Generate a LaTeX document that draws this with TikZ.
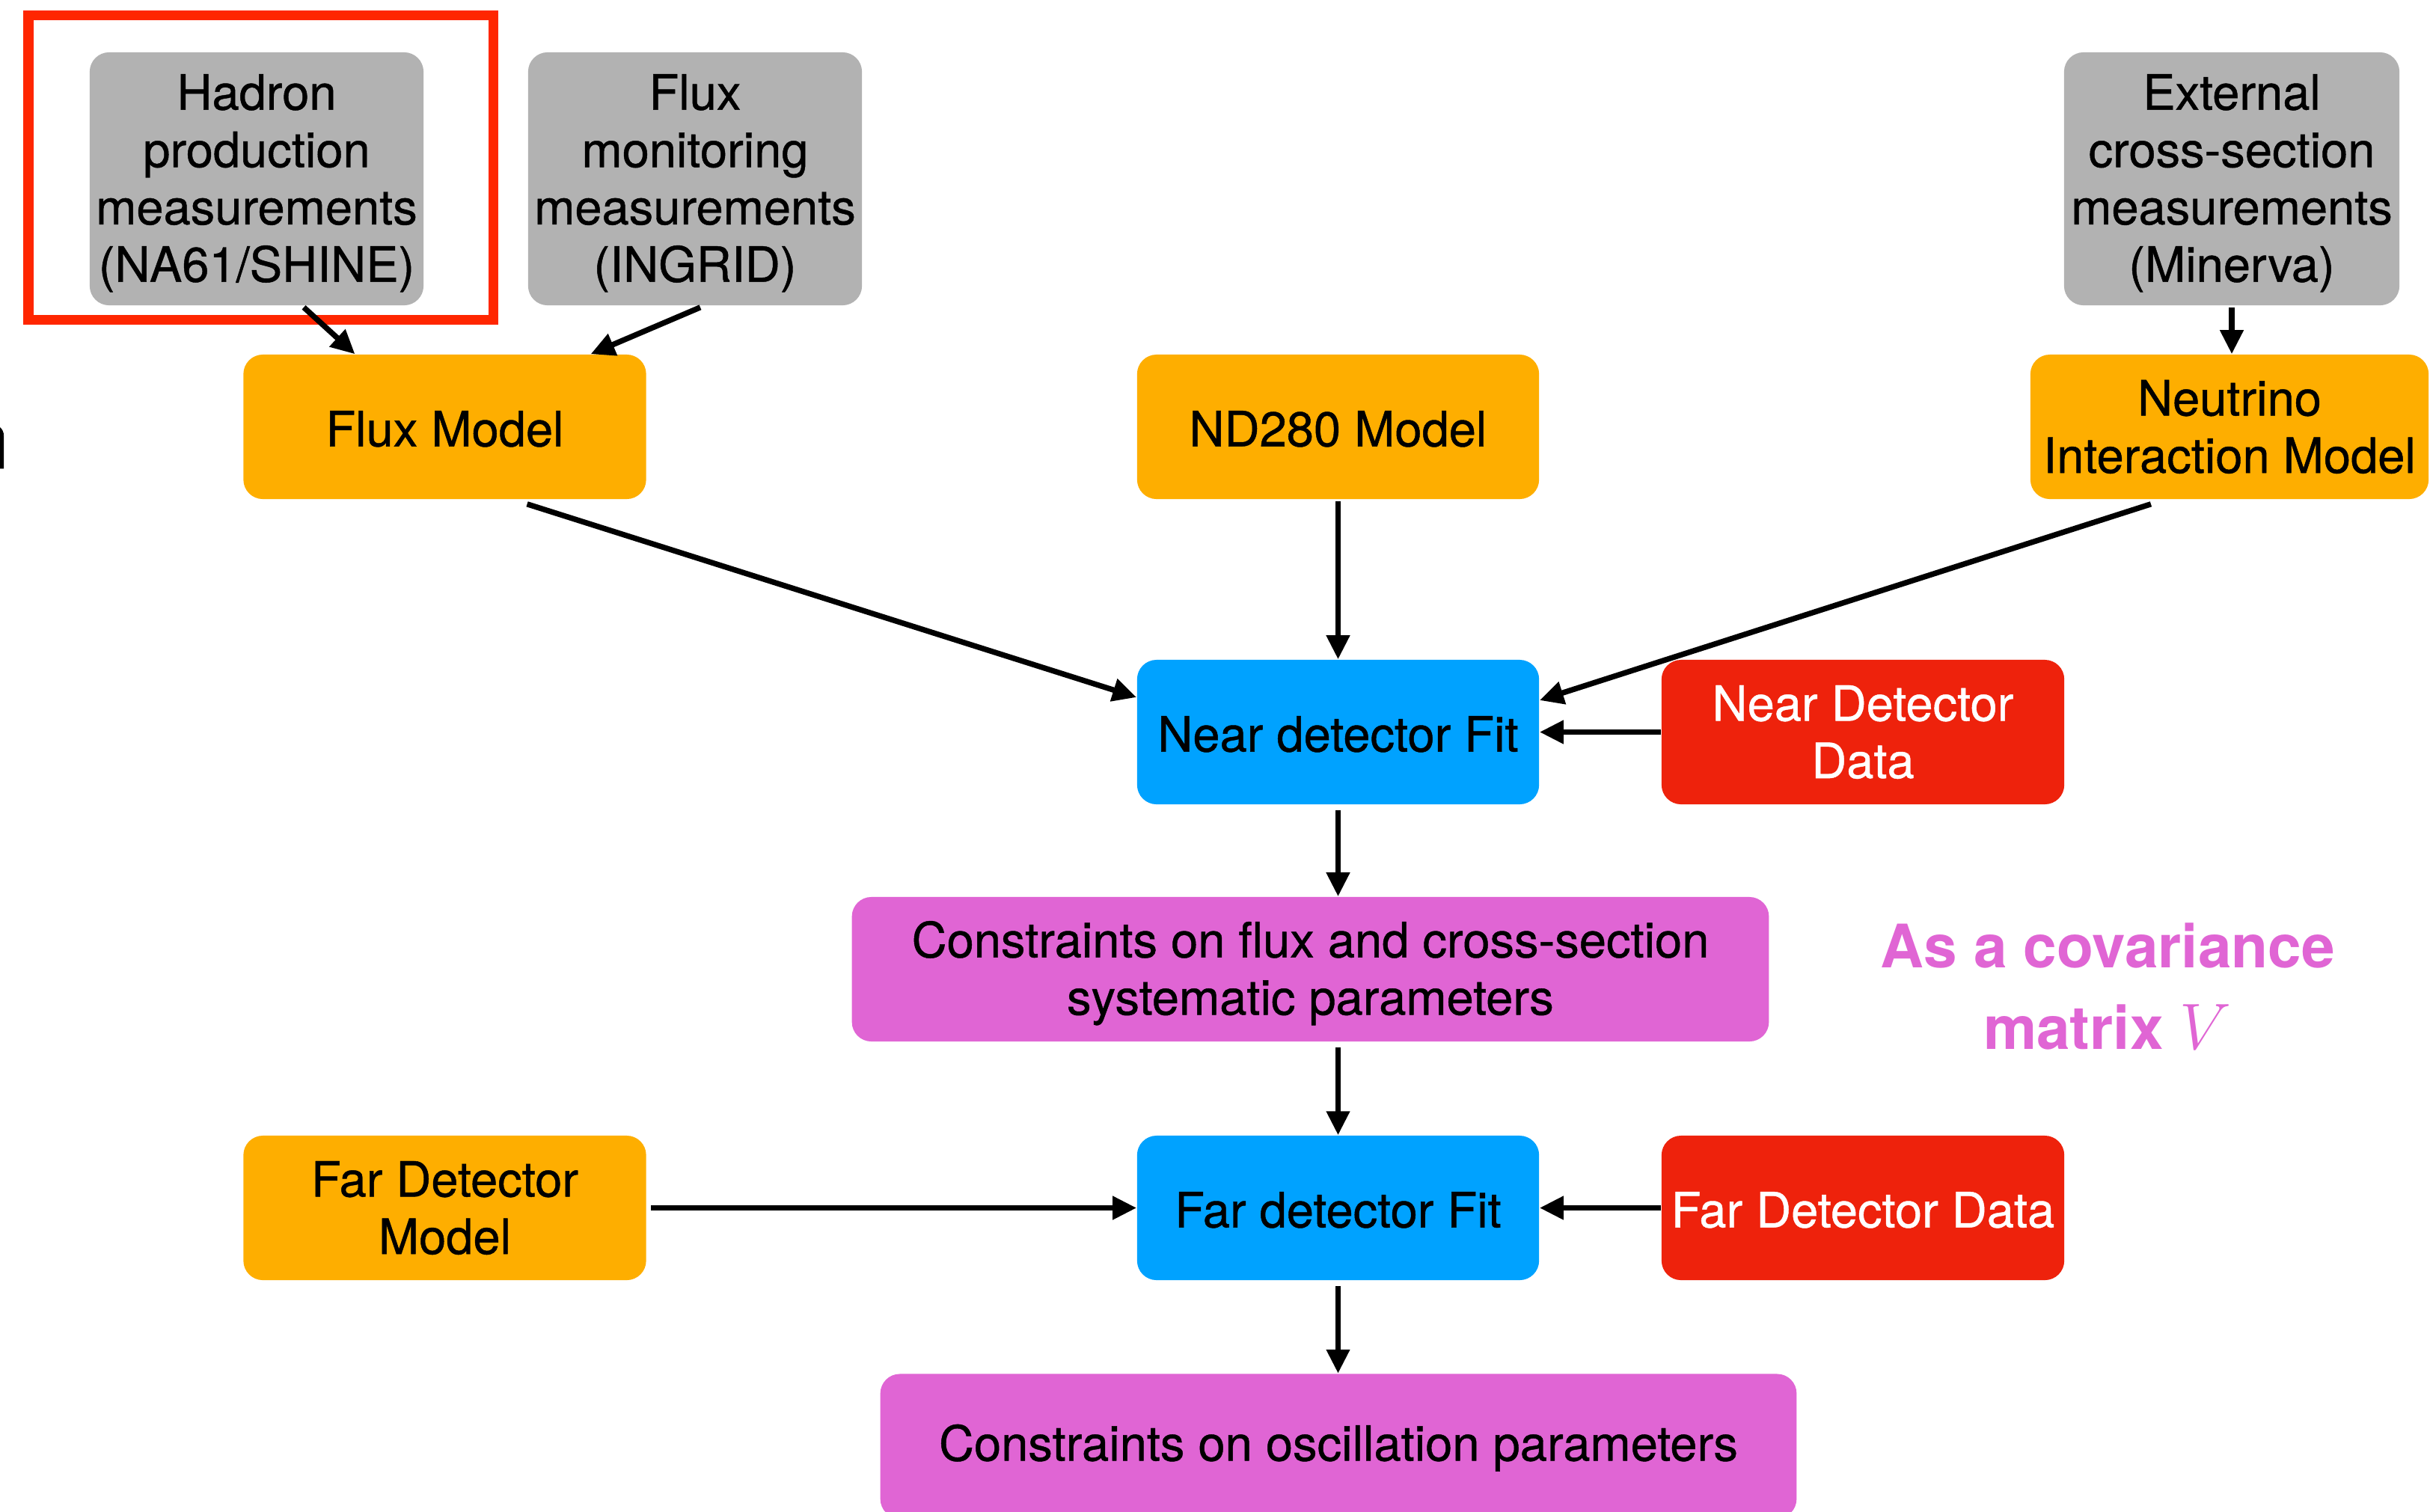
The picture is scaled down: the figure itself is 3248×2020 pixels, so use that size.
\documentclass[tikz,border=0pt]{standalone}
\usepackage{fontspec}
\setmainfont{TeX Gyre Heros}
\newfontface\medfont{TeX Gyre Heros}[FakeBold=0.7]
\usetikzlibrary{arrows.meta}
\definecolor{cgray}{HTML}{B2B2B2}
\definecolor{corange}{HTML}{FEAE00}
\definecolor{cblue}{HTML}{00A2FF}
\definecolor{cred}{HTML}{EE220C}
\definecolor{cmag}{HTML}{E065D4}
\definecolor{cframe}{HTML}{FF2600}
\newcommand{\topstrut}{\rule{0pt}{0.59cm}}
\tikzset{
  box/.style={rounded corners=0.26cm, inner sep=0pt, align=center, text=black,
    font=\medfont\fontsize{18.5}{21.8}\selectfont, minimum height=1.93cm,
    execute at begin node={\rule{0pt}{0.53cm}}},
  graybox/.style={box, fill=cgray, minimum width=4.46cm, minimum height=3.38cm},
  orangebox/.style={box, fill=corange, minimum width=5.38cm},
  bluebox/.style={box, fill=cblue, minimum width=5.37cm},
  redbox/.style={box, fill=cred, text=white, minimum width=5.38cm},
  magbox/.style={box, fill=cmag, minimum width=12.25cm},
  conn/.style={line width=2.1pt, -{Triangle[length=0.32cm, width=0.3cm]}},
}
\begin{document}
\begin{tikzpicture}[x=0.01cm, y=-0.01cm]
\useasboundingbox (0,0) rectangle (3248,2020);
\clip (0,0) rectangle (3248,2020);
\fill[white] (0,0) rectangle (3248,2020);

% partial glyph at the left edge
\node[anchor=base east, inner sep=0pt, font=\medfont\fontsize{31}{31}\selectfont] (frag) at (13,626) {n};

% top row
\node[graybox] (had)  at (343,239) {\topstrut Hadron\\production\\measurements\\(NA61/SHINE)};
\node[graybox] (fmon) at (929,239) {\topstrut Flux\\monitoring\\measurements\\(INGRID)};
\node[graybox, minimum width=4.48cm] (ext) at (2983,239) {\topstrut External\\cross-section\\measurements\\(Minerva)};
\draw[cframe, line width=3.7pt] (38,20) rectangle (659,427);

% models
\node[orangebox] (flux)  at (594.5,570.5) {Flux Model};
\node[orangebox, minimum width=5.37cm] (nd280) at (1788.5,570.5) {ND280 Model};
\node[orangebox, minimum width=5.32cm] (nim)   at (2980,570.5) {Neutrino\\Interaction Model};

% near detector
\node[bluebox] (nfit)  at (1788.5,978.5) {Near detector Fit};
\node[redbox]  (ndata) at (2490,978.5) {Near Detector\\Data};

% constraints 1
\node[magbox] (cons) at (1751.5,1295.5) {\topstrut Constraints on flux and cross-section\\systematic parameters};
\node[align=center, inner sep=0pt, text=cmag, font=\fontsize{22.8}{31}\selectfont\bfseries] (cov) at (2817,1318) {As a covariance\\matrix {\fontsize{26}{31}\selectfont$V$}};

% far detector
\node[orangebox] (ffm)   at (594.5,1614.5) {Far Detector\\Model};
\node[bluebox]   (ffit)  at (1788.5,1614.5) {Far detector Fit};
\node[redbox]    (fdata) at (2490,1614.5) {Far Detector Data};

% final
\node[magbox, minimum width=12.24cm] (osc) at (1789,1933) {Constraints on oscillation parameters};

% connectors
\draw[conn] ([xshift=0.63cm,yshift=-0.02cm]had.south) -- ([xshift=-1.2cm]flux.north);
\draw[conn] ([xshift=0.07cm,yshift=-0.02cm]fmon.south) -- ([xshift=1.95cm]flux.north);
\draw[conn] ([yshift=-0.02cm]ext.south) -- (ext.south |- nim.north);
\draw[conn] ([xshift=1.1cm,yshift=-0.06cm]flux.south) -- ([yshift=0.465cm]nfit.west);
\draw[conn] ([yshift=-0.02cm]nd280.south) -- (nfit.north);
\draw[conn] ([xshift=-1.05cm,yshift=-0.06cm]nim.south) -- ([yshift=0.425cm]nfit.east);
\draw[conn] (ndata.west) -- (nfit.east);
\draw[conn] ([yshift=-0.07cm]nfit.south) -- (nfit.south |- cons.north);
\draw[conn] ([yshift=-0.07cm]ffit.north |- cons.south) -- (ffit.north);
\draw[conn] ([xshift=0.06cm]ffm.east) -- (ffit.west);
\draw[conn] (fdata.west) -- (ffit.east);
\draw[conn] ([yshift=-0.07cm]ffit.south) -- (ffit.south |- osc.north);
\end{tikzpicture}
\end{document}
